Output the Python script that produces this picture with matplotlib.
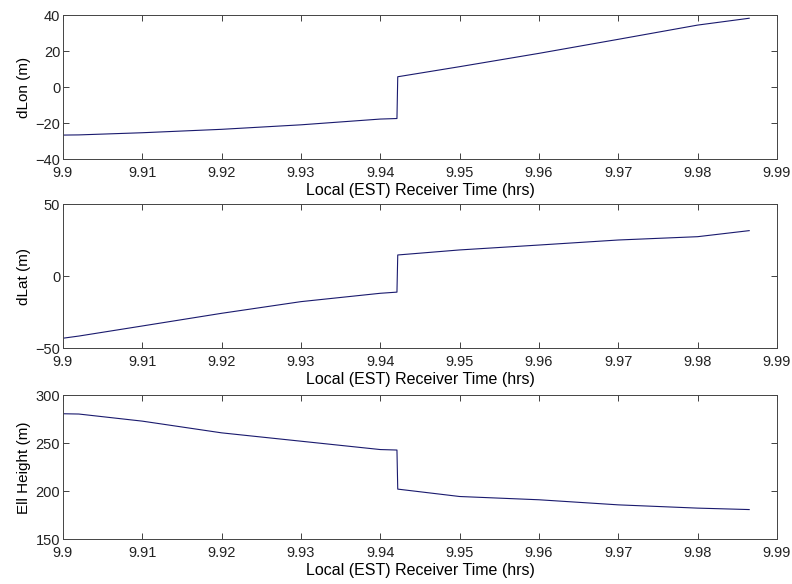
import numpy as np
import matplotlib
matplotlib.use("Agg")
import matplotlib.pyplot as plt

plt.rcParams['font.family'] = ['Liberation Sans', 'DejaVu Sans']

# receiver time (hrs) and position errors read at a few points along each track
t = [9.9, 9.902, 9.91, 9.92, 9.93, 9.94, 9.9421, 9.9422, 9.95, 9.96, 9.97, 9.98, 9.9865]
dlon = [-26.7, -26.6, -25.4, -23.5, -21.0, -17.8, -17.5, 5.7, 11.3, 18.7, 26.5, 34.4, 38.2]
dlat = [-43.0, -41.5, -34.5, -25.7, -17.6, -11.8, -11.0, 14.8, 18.3, 21.7, 25.2, 27.5, 31.7]
height = [280.8, 280.5, 273.1, 260.9, 252.2, 243.5, 243.0, 202.3, 194.6, 191.2, 185.9, 182.5, 181.0]

xticks = np.round(np.arange(9.9, 9.991, 0.01), 2)
xlabels = ['9.9'] + ['%.2f' % v for v in xticks[1:]]

panels = [
    (dlon, 'dLon (m)', (-40, 40), [-40, -20, 0, 20, 40]),
    (dlat, 'dLat (m)', (-50, 50), [-50, 0, 50]),
    (height, 'Ell Height (m)', (150, 300), [150, 200, 250, 300]),
]
bottoms = [0.7277, 0.4036, 0.0765]

fig = plt.figure(figsize=(7.92, 5.84), dpi=100)
for (vals, ylab, ylim, yt), b in zip(panels, bottoms):
    ax = fig.add_axes([0.0795, b, 0.9015, 0.2466])
    ax.plot(t, vals, color='#1a1a6e', lw=0.8)
    ax.set_xlim(9.9, 9.99)
    ax.set_ylim(*ylim)
    ax.set_xticks(xticks)
    ax.set_xticklabels(xlabels)
    ax.set_yticks(yt)
    ax.tick_params(direction='in', top=True, right=True, labelsize=10.5,
                   length=4, width=0.6, colors='#222222')
    ax.tick_params(axis='x', pad=5)
    ax.tick_params(axis='y', pad=2)
    for s in ax.spines.values():
        s.set_linewidth(0.7)
        s.set_color('#444444')
    ax.set_xlabel('Local (EST) Receiver Time (hrs)', fontsize=11.5, labelpad=2)
    ax.set_ylabel(ylab, fontsize=11, labelpad=3)

fig.savefig('out.png', dpi=100)
